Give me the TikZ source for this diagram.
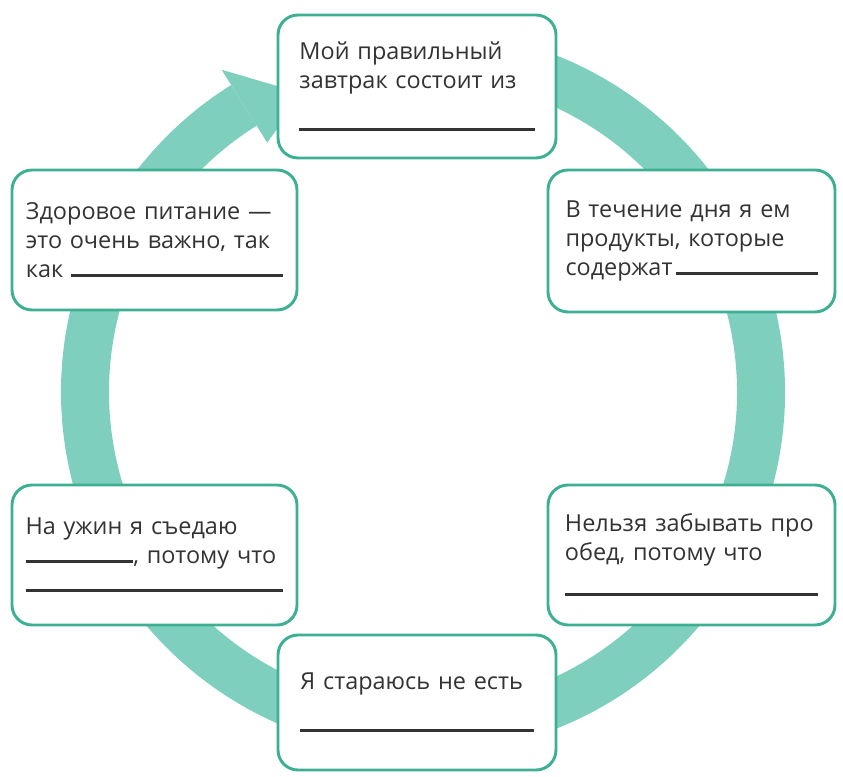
\documentclass[tikz,border=0pt]{standalone}
\usepackage{fontspec}
\setmainfont{Open Sans}
\definecolor{ringcol}{HTML}{7ECFBE}
\definecolor{boxcol}{HTML}{3DAF93}
\definecolor{inkcol}{HTML}{333333}
\newcommand\blankfill{\leavevmode\leaders\hrule height 2.5pt\hskip 0pt plus 1fill\kern0pt}
\newcommand\fullline[1]{\makebox[\hsize][s]{#1}}
\tikzset{
  card/.style={draw=boxcol, line width=2.5pt, rounded corners=0.6cm, fill=white,
    inner sep=0pt, align=left, text=inkcol,
    font=\fontsize{20pt}{24.5pt}\selectfont},
}
\begin{document}
\begin{tikzpicture}[x=0.03cm, y=0.03cm]
  \useasboundingbox (0,0) rectangle (843,776);
  % ring with its arrow head
  \begin{scope}[shift={(423,384)}]
    \coordinate (c) at (0,0);
    \draw[ringcol, line width=1.44cm] (100:338) arc[start angle=100, end angle=-238, radius=338];
    \fill[ringcol] (122:380) -- (112:322) -- (122:294) -- cycle;
  \end{scope}
  % cards
  \node[card, minimum width=278*0.03cm, minimum height=143*0.03cm, text width=200.6pt]
    (breakfast) at (417,689.5)
    {Мой правильный\\ завтрак состоит из\\[12pt] \blankfill};
  \node[card, minimum width=285*0.03cm, minimum height=140*0.03cm, text width=219.4pt]
    (healthy) at (154.5,536)
    {\fullline{Здоровое питание —}\\ \fullline{это очень важно, так}\\ как \blankfill};
  \node[card, minimum width=287*0.03cm, minimum height=142*0.03cm, text width=215.1pt]
    (daily) at (691.5,535)
    {В течение дня я ем\\ продукты, которые\\ содержат\,\blankfill};
  \node[card, minimum width=285*0.03cm, minimum height=140*0.03cm, text width=220.2pt]
    (supper) at (154.5,221)
    {На ужин я съедаю\\ \rule{92pt}{2.5pt}, потому что\\ \blankfill};
  \node[card, minimum width=287*0.03cm, minimum height=140*0.03cm, text width=216pt]
    (lunch) at (691.5,221)
    {\fullline{Нельзя забывать про}\\ обед, потому что\\[6pt] \blankfill};
  \node[card, minimum width=278*0.03cm, minimum height=135*0.03cm, text width=198.9pt]
    (avoid) at (417,73.5)
    {Я стараюсь не есть\\[12pt] \blankfill};
\end{tikzpicture}
\end{document}
